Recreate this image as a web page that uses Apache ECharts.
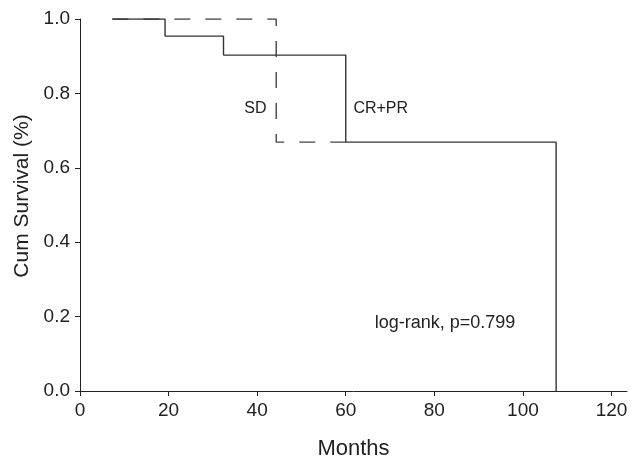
<!DOCTYPE html>
<html>
<head>
<meta charset="utf-8">
<script src="https://cdn.jsdelivr.net/npm/echarts@6/dist/echarts.min.js"></script>
<style>
    html, body { margin: 0; padding: 0; background: #fff; }
    #chart { width: 635px; height: 460px; }
</style>
</head>
<body>
<div id="chart"></div>
<script>
    // survival curves
    var crprMonths = [7.3, 19.2, 32.4, 60.0, 107.5];
    var crprSurv   = [1.0, 0.954, 0.903, 0.669, 0.0];
    var sdMonths   = [7.3, 44.3, 60.0];
    var sdSurv     = [1.0, 0.669, 0.669];
    var xTicks     = [0, 20, 40, 60, 80, 100, 120];
    var notes = [
        {text: 'SD', x: 39.6, y: 0.76, size: 16},
        {text: 'CR+PR', x: 67.9, y: 0.76, size: 16},
        {text: 'log-rank, p=0.799', x: 82.4, y: 0.183, size: 18}
    ];

    function pairs(xs, ys) {
        var res = [];
        for (var i = 0; i < xs.length; i++) {
            res.push([xs[i], ys[i]]);
        }
        return res;
    }

    var font = '"Liberation Sans", Arial, sans-serif';
    var myChart = echarts.init(document.getElementById('chart'));
    var option = {
        backgroundColor: '#fff',
        animation: false,
        grid: {left: 80, right: 8, top: 19, bottom: 69, outerBoundsMode: 'none'},
        xAxis: {
            type: 'value',
            min: 0,
            max: 123.5,
            interval: 20,
            name: 'Months',
            nameLocation: 'middle',
            nameGap: 47,
            nameTextStyle: {fontSize: 22, color: '#222', fontFamily: font},
            axisLine: {lineStyle: {color: '#222', width: 1}},
            axisTick: {customValues: xTicks, length: 5, lineStyle: {color: '#222'}},
            axisLabel: {customValues: xTicks, fontSize: 19, color: '#222', fontFamily: font, margin: 10},
            splitLine: {show: false}
        },
        yAxis: {
            type: 'value',
            min: 0,
            max: 1,
            interval: 0.2,
            name: 'Cum Survival (%)',
            nameLocation: 'middle',
            nameGap: 47,
            nameTextStyle: {fontSize: 21, color: '#222', fontFamily: font, padding: [0, 0, 0, 18]},
            axisLine: {show: true, lineStyle: {color: '#222', width: 1}},
            axisTick: {show: true, length: 5, lineStyle: {color: '#222'}},
            axisLabel: {
                fontSize: 19, color: '#222', fontFamily: font, margin: 10,
                formatter: function (v) { return v.toFixed(1); }
            },
            splitLine: {show: false}
        },
        series: [
            {
                name: 'SD',
                type: 'line',
                step: 'end',
                data: pairs(sdMonths, sdSurv),
                symbol: 'none',
                lineStyle: {color: '#444', width: 1.4, type: [16, 15]}
            },
            {
                name: 'CR+PR',
                type: 'line',
                step: 'end',
                data: pairs(crprMonths, crprSurv),
                symbol: 'none',
                lineStyle: {color: '#333', width: 1.4}
            }
        ]
    };
    myChart.setOption(option);

    // annotations placed in data coordinates
    var texts = notes.map(function (n) {
        var p = myChart.convertToPixel({gridIndex: 0}, [n.x, n.y]);
        return {
            type: 'text',
            x: p[0],
            y: p[1],
            style: {
                text: n.text,
                fill: '#222',
                font: n.size + 'px ' + font,
                align: 'center',
                verticalAlign: 'middle'
            }
        };
    });
    myChart.setOption({graphic: texts});
</script>
</body>
</html>
